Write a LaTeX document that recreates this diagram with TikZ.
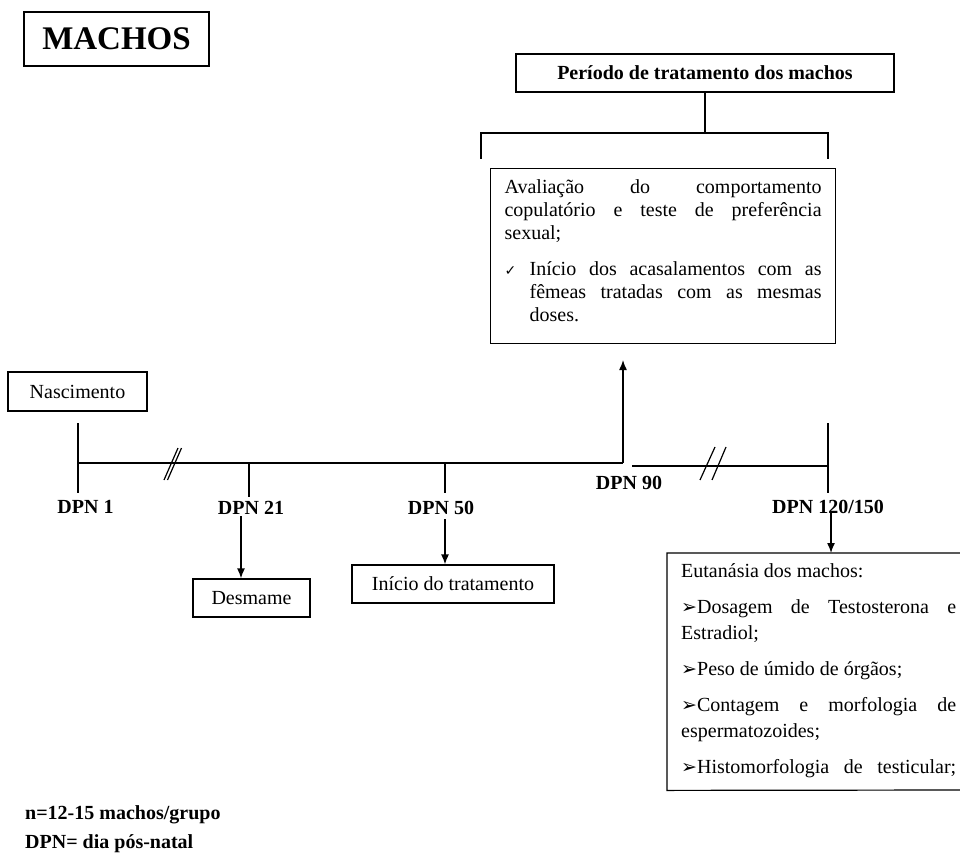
\documentclass[tikz,border=0pt]{standalone}
\usepackage{fontspec}
\setmainfont{Liberation Serif}
\newfontfamily\symfont{DejaVu Sans}
\usetikzlibrary{arrows.meta}
\newcommand\chkmark{{\symfont\fontsize{14}{14}\selectfont ✓}}
\newcommand\arrb{{\symfont\fontsize{19}{19}\selectfont ➢}}
\hbadness=10000
\hyphenpenalty=10000
\begin{document}
\begin{tikzpicture}[x=1pt,y=-1pt,
  box/.style={draw, line width=1.2pt, inner sep=0pt},
  txt/.style={font=\fontsize{20}{23}\selectfont},
  lbl/.style={font=\bfseries\fontsize{20}{23}\selectfont, anchor=base, inner sep=0pt},
  tl/.style={line width=1.8pt},
  brk/.style={line width=1.2pt},
  arr/.style={line width=1.4pt, -{Latex[length=10pt,width=8pt]}},
  bracketline/.style={line width=2.8pt},
  border/.style={line width=1.2pt}
]
\useasboundingbox (0,0) rectangle (960,861);

% title
\node[box, minimum width=185, minimum height=54, font=\bfseries\fontsize{33}{36}\selectfont] (machos) at (116.5,39) {MACHOS};

% treatment period
\node[box, minimum width=378, minimum height=38, font=\bfseries\fontsize{20}{23}\selectfont] (periodo) at (705,73) {Período de tratamento dos machos};
\coordinate (bl) at (481,159);
\coordinate (br) at (828,159);
\coordinate (bmid) at (705,133);
\draw[bracketline] (bl) -- (bl |- bmid) -- (br |- bmid) -- (br);
\draw[bracketline] (periodo.south) -- (bmid);

% evaluation box
\node[box, anchor=north west, text width=317pt, inner xsep=14pt, inner ysep=0pt, align=justify, font=\fontsize{20}{23}\selectfont] (aval) at (490,168) {\parindent=0pt\rule{0pt}{25pt}Avaliação do comportamento\linebreak copulatório e teste de preferência\linebreak sexual;\par
\vspace{13pt}\hangindent=25pt\hangafter=1\makebox[25pt][l]{\chkmark}Início dos acasalamentos com as\linebreak fêmeas tratadas com as mesmas\linebreak doses.\rule[-22pt]{0pt}{0pt}\par};

% birth box
\node[box, minimum width=139, minimum height=39, txt] (nasc) at (77.5,391.5) {Nascimento};

% timeline coordinates
\coordinate (t1) at (78,463);
\coordinate (t1top) at (78,423);
\coordinate (t1bot) at (78,493);
\coordinate (t21) at (249,463);
\coordinate (t21b) at (249,497);
\coordinate (t50) at (445,463);
\coordinate (t50b) at (445,493);
\coordinate (t90) at (623,463);
\coordinate (a90) at (623,360);
\coordinate (t90a) at (632,466);
\coordinate (t120) at (828,466);
\coordinate (t120top) at (828,423);
\coordinate (t120b) at (828,493);

\draw[tl] (t1) -- (t90);
\draw[tl] (t90a) -- (t120);
\draw[tl] (t1top) -- (t1bot);
\draw[tl] (t21) -- (t21b);
\draw[tl] (t50) -- (t50b);
\draw[tl] (t120top) -- (t120b);
\draw[arr] (t90) -- (a90);

% break marks
\coordinate (b1a) at (178,448); \coordinate (b1b) at (164,480);
\coordinate (b1c) at (181.5,448); \coordinate (b1d) at (167.5,480);
\coordinate (b2a) at (715,447); \coordinate (b2b) at (700,480);
\coordinate (b2c) at (726,447); \coordinate (b2d) at (712,480);
\draw[brk] (b1a) -- (b1b);
\draw[brk] (b1c) -- (b1d);
\draw[brk] (b2a) -- (b2b);
\draw[brk] (b2c) -- (b2d);

% labels
\node[lbl] (l1) at (85.5,513) {DPN 1};
\node[lbl] (l21) at (251,514) {DPN 21};
\node[lbl] (l50) at (441,514) {DPN 50};
\node[lbl] (l90) at (629,489) {DPN 90};
\node[lbl] (l120) at (828,513) {DPN 120/150};

% lower boxes
\node[box, minimum width=117, minimum height=38, txt] (desm) at (251.5,598) {Desmame};
\node[box, minimum width=202, minimum height=38, txt] (inicio) at (453,584) {Início do tratamento};
\node[anchor=north west, text width=275pt, inner xsep=14pt, inner ysep=0pt, align=justify, font=\fontsize{20}{26}\selectfont] (eut) at (667,553) {\parindent=0pt\parskip=10pt\rule{0pt}{24pt}Eutanásia dos machos:\par
\arrb Dosagem de Testosterona e\linebreak Estradiol;\par
\arrb Peso de úmido de órgãos;\par
\arrb Contagem e morfologia de\linebreak espermatozoides;\par
{\parfillskip=0pt\arrb Histomorfologia de testicular;\rule[-17pt]{0pt}{0pt}\par}};
\coordinate (eutne) at (960,553);
\coordinate (eutse) at (960,790);
\draw[border] (eutne) -- (eut.north west) -- (eut.south west) -- (eutse);

% arrows down
\coordinate (s21) at (241,516);
\coordinate (s50) at (445,519);
\coordinate (s120) at (831,513);
\draw[arr] (s21) -- (s21 |- desm.north);
\draw[arr] (s50) -- (s50 |- inicio.north);
\draw[arr] (s120) -- (s120 |- eut.north);

% footer
\node[lbl, anchor=base west] (nnote) at (25,819) {n=12-15 machos/grupo};
\node[lbl, anchor=base west] (dpnnote) at (25,848) {DPN= dia pós-natal};
\end{tikzpicture}
\end{document}
